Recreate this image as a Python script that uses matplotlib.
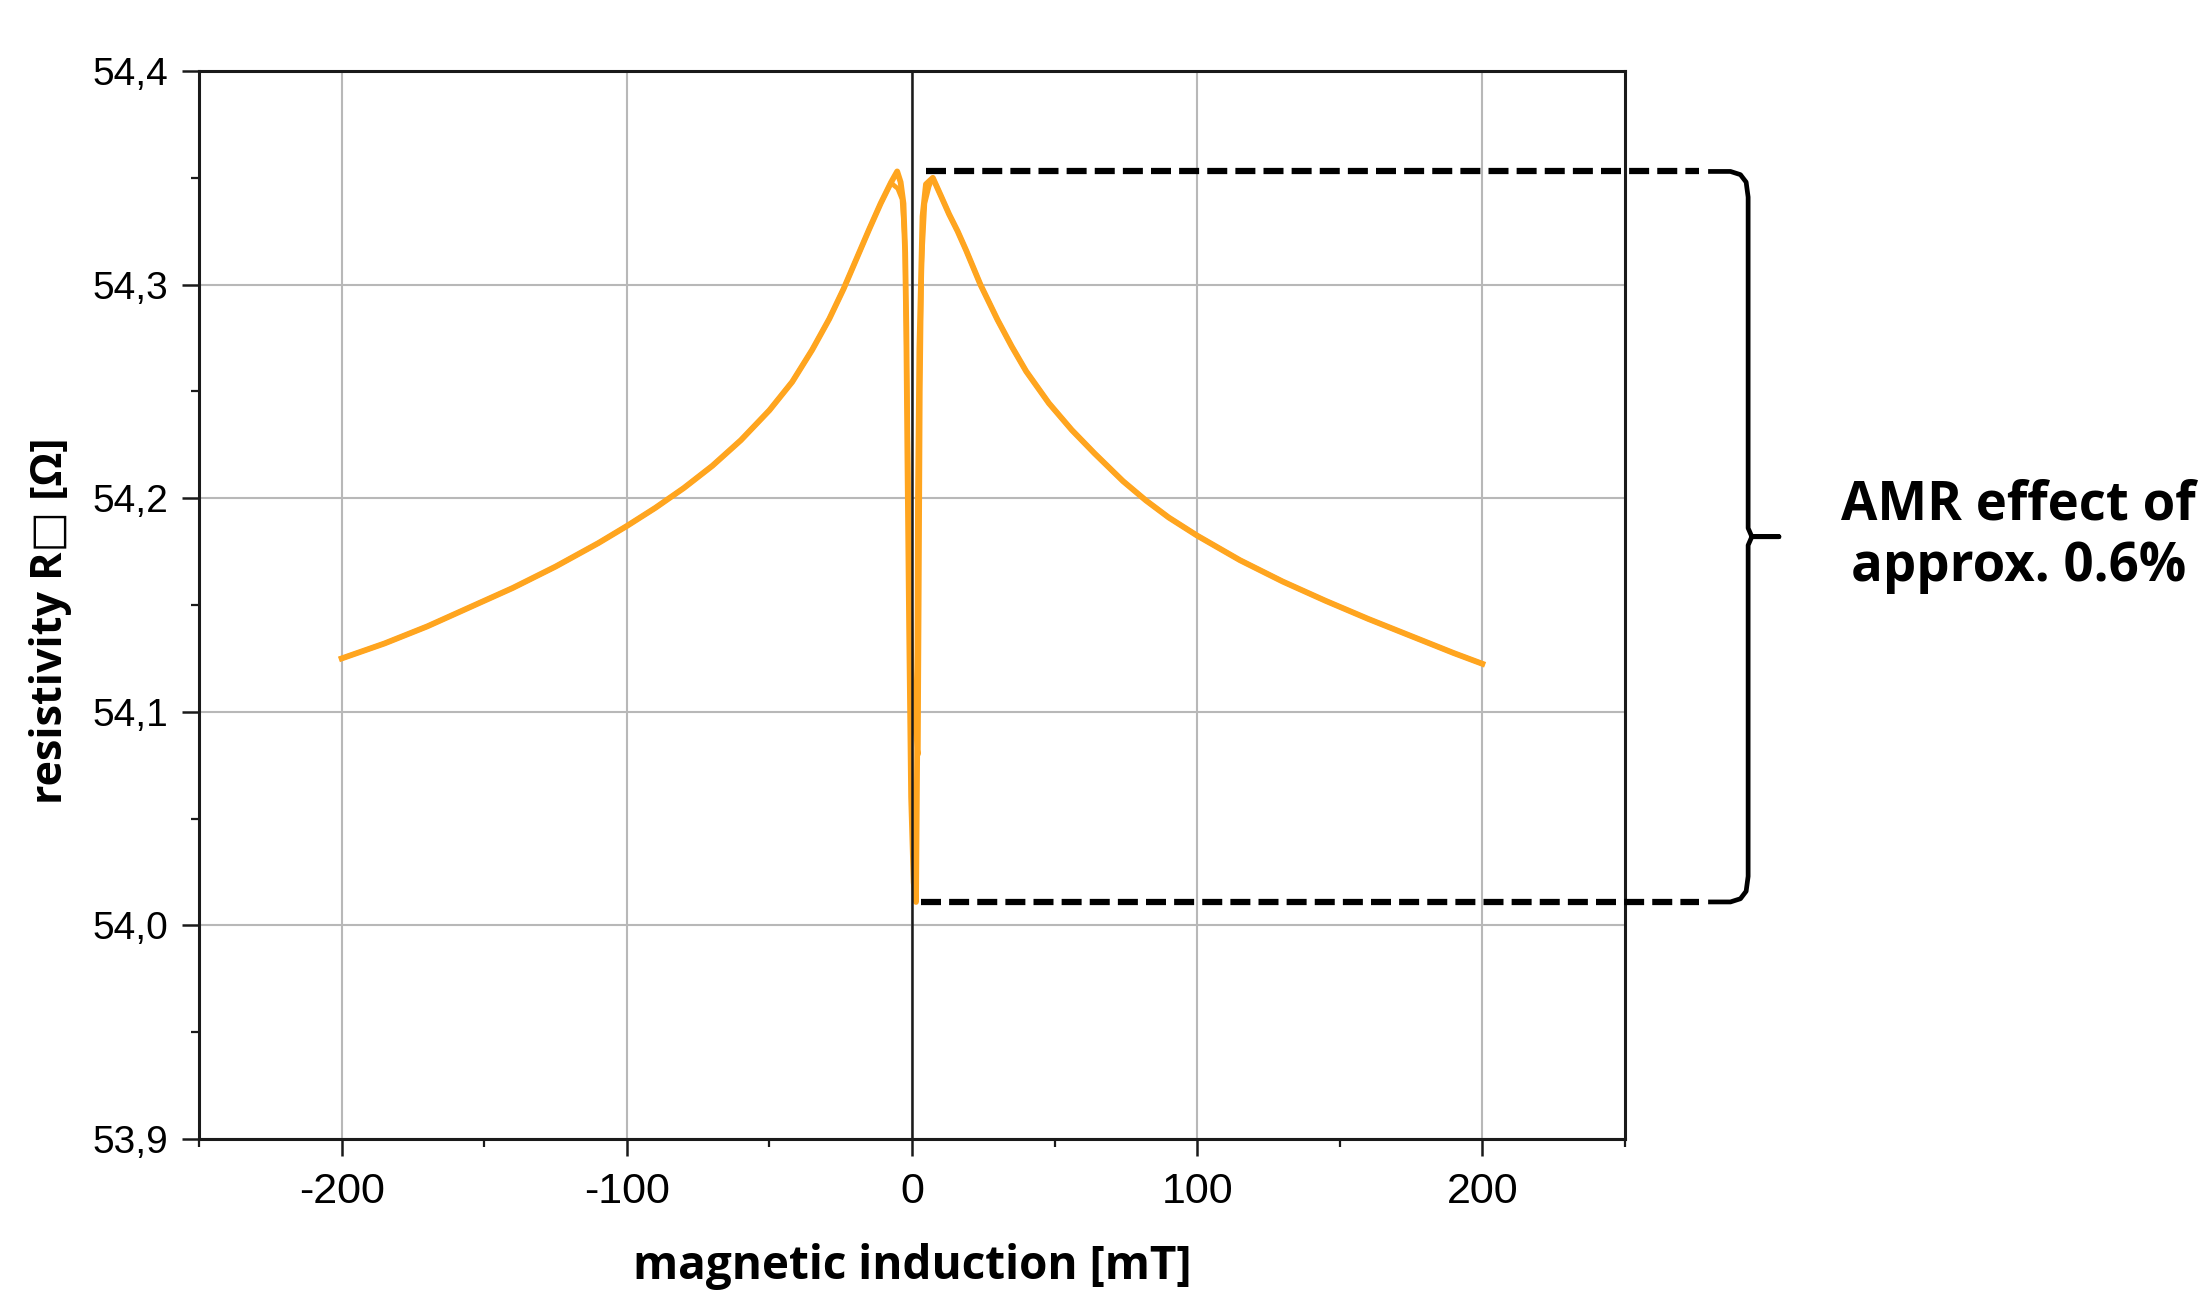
# -*- coding: utf-8 -*-
"""
AMR measurement: sheet resistivity vs. magnetic induction
"""

import matplotlib
matplotlib.use('Agg')
import matplotlib.pyplot as plt
import matplotlib.font_manager as fm

left_x = [-200, -185, -170, -155, -140, -125, -110, -100, -90, -80, -70, -60, -50,
          -42, -35, -29, -24, -19.5, -15, -11, -7.3, -5.2]
left_r = [54.125, 54.132, 54.140, 54.149, 54.158, 54.168, 54.179, 54.187, 54.1955,
          54.2048, 54.2152, 54.2272, 54.2412, 54.2545, 54.2695, 54.284, 54.298, 54.312,
          54.326, 54.338, 54.348, 54.353]

right_x = [7.3, 10, 13, 16, 19, 24, 30, 35, 40, 48, 56, 64, 74, 82, 90, 100, 115,
           130, 145, 160, 175, 190, 200]
right_r = [54.350, 54.342, 54.333, 54.325, 54.316, 54.300, 54.2835, 54.271, 54.2595,
           54.2445, 54.232, 54.221, 54.208, 54.199, 54.191, 54.1825, 54.171, 54.161,
           54.152, 54.1435, 54.1355, 54.1275, 54.1225]

# Bereich um 0 mT, Hinweg (-B -> +B)
core_up_x = [-4.0, -3.0, -2.4, -2.0, -1.6, -1.0, -0.3, 0.6, 1.4, 1.8, 2.1, 2.6, 3.7, 4.9]
core_up_r = [54.348, 54.338, 54.315, 54.280, 54.220, 54.140, 54.060, 54.020, 54.011,
             54.080, 54.200, 54.270, 54.332, 54.347]

# Bereich um 0 mT, Rueckweg (+B -> -B)
core_down_x = [6.0, 4.5, 3.4, 2.9, 2.5, 2.2, 1.2, 0.0, -1.0, -1.8, -2.5, -3.5, -5.0, -6.8]
core_down_r = [54.346, 54.338, 54.310, 54.250, 54.150, 54.080, 54.090, 54.120, 54.182,
               54.254, 54.320, 54.340, 54.345, 54.347]

x_ticks = [-200, -100, 0, 100, 200]
x_tick_labels = ['-200', '-100', '0', '100', '200']
y_ticks = [53.9, 54.0, 54.1, 54.2, 54.3, 54.4]
y_tick_labels = ['53,9', '54,0', '54,1', '54,2', '54,3', '54,4']

amr_top = 54.353
amr_bottom = 54.011
amr_text = ['AMR effect of', 'approx. 0.6%']

# Schriftarten
names = {f.name for f in fm.fontManager.ttflist}
narrow = 'Liberation Sans Narrow' if 'Liberation Sans Narrow' in names else 'Liberation Sans'
bold_family = ['Open Sans', 'DejaVu Sans']

fig = plt.figure(figsize=(22.12, 12.92), dpi=100)
ax = fig.add_axes([0.090, 0.1184, 0.6446, 0.8266])

up_x = left_x + core_up_x + right_x
up_r = left_r + core_up_r + right_r
down_x = right_x[::-1] + core_down_x + left_x[::-1][1:]
down_r = right_r[::-1] + core_down_r + left_r[::-1][1:]

orange = '#FFA51F'
ax.plot(up_x, up_r, color=orange, lw=4.2, zorder=2, solid_joinstyle='round')
ax.plot(down_x, down_r, color=orange, lw=3.4, zorder=2, solid_joinstyle='round')
ax.axvline(0, color='#1a1a1a', lw=1.8, zorder=3)

ax.set_xlim(-250, 250)
ax.set_ylim(53.9, 54.4)
ax.set_xticks(x_ticks)
ax.set_xticklabels(x_tick_labels)
ax.set_xticks([-250, -150, -50, 50, 150, 250], minor=True)
ax.set_yticks(y_ticks)
ax.set_yticklabels(y_tick_labels)
ax.set_yticks([53.95, 54.05, 54.15, 54.25, 54.35], minor=True)

ax.grid(True, which='major', color='#b8b8b8', lw=1.5)
ax.set_axisbelow(True)
for s in ax.spines.values():
    s.set_linewidth(2.2)
    s.set_color('#1a1a1a')

ax.tick_params(which='major', direction='out', length=12, width=1.8, color='#1a1a1a')
ax.tick_params(which='minor', direction='out', length=6, width=1.6, color='#1a1a1a')
ax.tick_params(axis='y', which='major', pad=10)
ax.tick_params(axis='x', which='major', pad=12)
for lab in ax.get_yticklabels():
    lab.set_fontfamily('Liberation Sans')
    lab.set_fontsize(28)
for lab in ax.get_xticklabels():
    lab.set_fontfamily(narrow)
    lab.set_fontsize(31)

ax.set_xlabel('magnetic induction [mT]', fontsize=33, fontweight='bold',
              family=bold_family, labelpad=22)
ax.set_ylabel('resistivity R\u25a1 [\u03a9]', fontsize=31, fontweight='bold',
              family=bold_family)
ax.yaxis.set_label_coords(-0.089, 0.485)

# gestrichelte Linien fuer den AMR-Bereich
dash = dict(color='black', lw=4.5, ls=(0, (3.2, 1.3)), dash_capstyle='butt', clip_on=False, zorder=4)
ax.plot([4.8, 276], [amr_top, amr_top], **dash)
ax.plot([3.1, 276], [amr_bottom, amr_bottom], **dash)

# geschweifte Klammer
mid = (amr_top + amr_bottom) / 2
bx = [280, 287, 290.5, 292.5, 293.2, 293.2, 294.5, 304, 294.5, 293.2, 293.2, 292.5, 290.5, 287, 280]
by = [amr_top, amr_top, amr_top - 0.0015, amr_top - 0.005, amr_top - 0.012, mid + 0.004,
      mid, mid, mid, mid - 0.004, amr_bottom + 0.012, amr_bottom + 0.005,
      amr_bottom + 0.0015, amr_bottom, amr_bottom]
ax.plot(bx, by, color='black', lw=3.4, clip_on=False, zorder=4, solid_joinstyle='round')

fig.text(0.9125, 1 - 519 / 1292, amr_text[0], fontsize=38, fontweight='bold',
         family=bold_family, ha='center', va='baseline')
fig.text(0.9125, 1 - 581 / 1292, amr_text[1], fontsize=38, fontweight='bold',
         family=bold_family, ha='center', va='baseline')

fig.savefig('out.png', dpi=100, facecolor='white')
